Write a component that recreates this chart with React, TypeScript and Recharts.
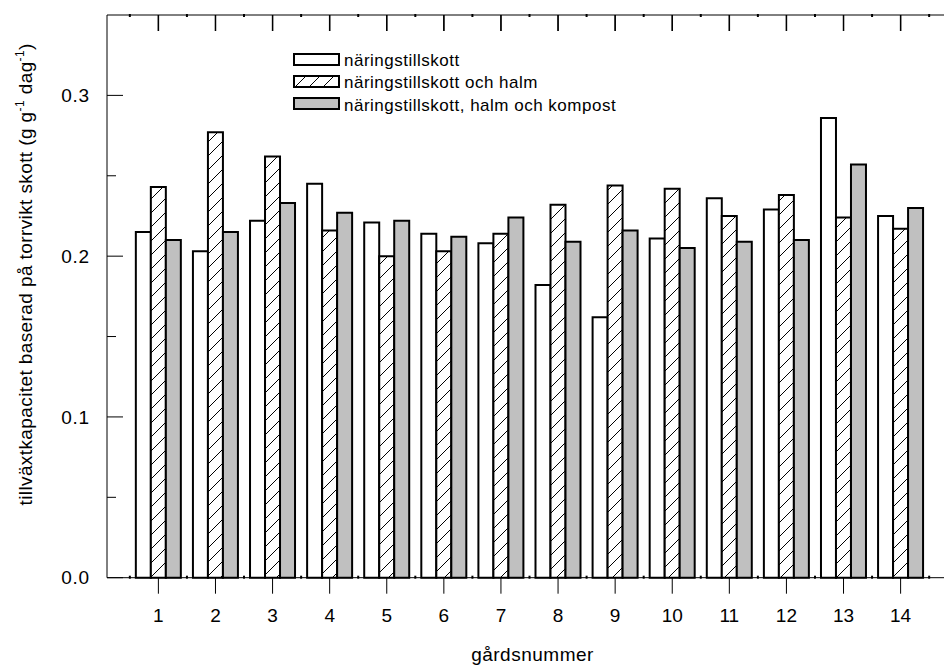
import { Bar, BarChart, Legend, ReferenceLine, XAxis, YAxis } from "recharts";

// gårdsnummer
const farms = ["1", "2", "3", "4", "5", "6", "7", "8", "9", "10", "11", "12", "13", "14"];

// tillväxtkapacitet (g g-1 dag-1)
const nutrients = [0.215, 0.203, 0.222, 0.245, 0.221, 0.214, 0.208, 0.182, 0.162, 0.211, 0.236, 0.229, 0.286, 0.225];
const nutrientsStraw = [0.243, 0.277, 0.262, 0.216, 0.2, 0.203, 0.214, 0.232, 0.244, 0.242, 0.225, 0.238, 0.224, 0.217];
const nutrientsStrawCompost = [0.21, 0.215, 0.233, 0.227, 0.222, 0.212, 0.224, 0.209, 0.216, 0.205, 0.209, 0.21, 0.257, 0.23];

const seriesNames = [
  "näringstillskott",
  "näringstillskott och halm",
  "näringstillskott, halm och kompost",
];

const yTicks = [0, 0.05, 0.1, 0.15, 0.2, 0.25, 0.3];
const yMajorTicks = [0, 0.1, 0.2, 0.3];
const Y_MAX = 0.35;

const chartData = farms.map((farm, i) => ({
  farm,
  a: nutrients[i],
  b: nutrientsStraw[i],
  c: nutrientsStrawCompost[i],
}));

const FONT = "'Liberation Sans', Arial, sans-serif";
const CHART_W = 980;
const CHART_H = 665;
const MARGIN = { top: 14, left: 107, right: 28, bottom: 87.3 };
const PLOT_TOP = MARGIN.top + 1;
const PLOT_W = CHART_W - MARGIN.left - MARGIN.right;
const PLOT_H = CHART_H - PLOT_TOP - MARGIN.bottom;
// x range runs from 0.1 to 14.9 farm units
const BAND = PLOT_W / 14.8;
const PAD = 0.4 * BAND;
// 16px inward tick on the top frame, in value units
const TOP_TICK = (Y_MAX * 16) / PLOT_H;

const LeftTick = (props: any) => {
  const { x, y, payload } = props;
  const major = Math.round(payload.value * 100) % 10 === 0;
  return (
    <g>
      <line x1={x} x2={x + (major ? 16 : 9)} y1={y} y2={y} stroke="#000" />
      {major && (
        <text
          x={x - 17}
          y={y}
          dy="0.35em"
          textAnchor="end"
          fontSize={19}
          fontFamily={FONT}
          letterSpacing={0.8}
          fill="#000"
        >
          {payload.value.toFixed(1)}
        </text>
      )}
    </g>
  );
};

const RightTick = (props: any) => {
  const { x, y } = props;
  return <line x1={x} x2={x - 16} y1={y} y2={y} stroke="#000" />;
};

// short half-step ticks between the farms, pointing into the plot
const minorMarks = (x: number, y: number, index: number, dir: number) => {
  const xs = [x - BAND / 2];
  if (index === farms.length - 1) xs.push(x + BAND / 2);
  return xs.map((mx) => (
    <line key={mx} x1={mx} x2={mx} y1={y - dir} y2={y + 2 * dir} stroke="#000" strokeWidth={2} />
  ));
};

// bottom farm tick (outward, with label) and the matching inward tick on the top frame
const FarmTick = (props: any) => {
  const { x, y, payload, index } = props;
  return (
    <g>
      <line x1={x} x2={x} y1={y} y2={y + 16} stroke="#000" />
      {minorMarks(x, y, index, -1)}
      <rect x={x - 0.75} y={PLOT_TOP} width={1.5} height={16} fill="#000" />
      {minorMarks(x, PLOT_TOP, index, 1)}
      <text x={x} y={y + 44} textAnchor="middle" fontSize={19} fontFamily={FONT} fill="#000">
        {payload.value}
      </text>
    </g>
  );
};

const YLabel = (props: any) => {
  const { viewBox } = props;
  const cx = viewBox.x - 75;
  const cy = viewBox.y + viewBox.height / 2 - 22;
  return (
    <text
      x={cx}
      y={cy}
      transform={`rotate(-90, ${cx}, ${cy})`}
      textAnchor="middle"
      fontSize={19}
      fontFamily={FONT}
      letterSpacing={0.4}
      fill="#000"
    >
      <tspan>tillväxtkapacitet baserad på torrvikt skott (g g</tspan>
      <tspan fontSize={12} dy={-8}>-1</tspan>
      <tspan dy={8}> dag</tspan>
      <tspan fontSize={12} dy={-8}>-1</tspan>
      <tspan dy={8}>)</tspan>
    </text>
  );
};

const XLabel = (props: any) => {
  const { viewBox } = props;
  return (
    <text
      x={viewBox.x + viewBox.width / 2 + 3}
      y={viewBox.y + viewBox.height + 83}
      textAnchor="middle"
      fontSize={19}
      fontFamily={FONT}
      letterSpacing={0.5}
      fill="#000"
    >
      gårdsnummer
    </text>
  );
};

const legendFills = ["#ffffff", "url(#hatch)", "#c0c0c0"];

const LegendContent = () => (
  <div style={{ fontFamily: FONT, fontSize: 17, letterSpacing: 0.5, color: "#000" }}>
    {seriesNames.map((name, i) => (
      <div key={name} style={{ display: "flex", alignItems: "center", height: 22.3 }}>
        <svg width={47} height={13} style={{ display: "block" }}>
          <rect x={1} y={1} width={45} height={11} fill={legendFills[i]} stroke="#000" strokeWidth={2} />
        </svg>
        <span style={{ marginLeft: 4, position: "relative", top: 2, whiteSpace: "nowrap" }}>{name}</span>
      </div>
    ))}
  </div>
);

const App: React.FC = () => {
  return (
    <div
      style={{
        position: "fixed",
        left: 0,
        top: 0,
        width: 944,
        height: 665,
        overflow: "hidden",
        background: "#fff",
      }}
    >
      <BarChart
        width={CHART_W}
        height={CHART_H}
        data={chartData}
        margin={MARGIN}
        barGap={0}
      >
        <defs>
          <pattern id="hatch" patternUnits="userSpaceOnUse" width={14} height={14}>
            <rect width={14} height={14} fill="#fff" />
            <path d="M0,14 L14,0 M-3.5,3.5 L3.5,-3.5 M10.5,17.5 L17.5,10.5" stroke="#000" strokeWidth={1} />
          </pattern>
        </defs>
        <Bar dataKey="a" name={seriesNames[0]} fill="#ffffff" stroke="#000" strokeWidth={2} barSize={15} isAnimationActive={false} />
        <Bar dataKey="b" name={seriesNames[1]} fill="url(#hatch)" stroke="#000" strokeWidth={2} barSize={15} isAnimationActive={false} />
        <Bar dataKey="c" name={seriesNames[2]} fill="#c0c0c0" stroke="#000" strokeWidth={2} barSize={15} isAnimationActive={false} />
        <XAxis
          dataKey="farm"
          mirror
          height={1}
          padding={{ left: PAD, right: PAD }}
          axisLine={{ stroke: "#000" }}
          tickLine={false}
          tickSize={0}
          tickMargin={0}
          interval={0}
          tick={<FarmTick />}
          label={<XLabel />}
        />
        <XAxis
          xAxisId="top"
          orientation="top"
          dataKey="farm"
          height={1}
          axisLine={{ stroke: "#000" }}
          tickLine={false}
          tick={false}
        />
        <YAxis
          mirror
          width={1}
          domain={[0, Y_MAX]}
          ticks={yTicks}
          interval={0}
          axisLine={{ stroke: "#000" }}
          tickLine={false}
          tickSize={0}
          tickMargin={0}
          tick={<LeftTick />}
          label={<YLabel />}
        />
        <YAxis
          yAxisId="right"
          orientation="right"
          mirror
          width={1}
          domain={[0, Y_MAX]}
          ticks={yMajorTicks}
          interval={0}
          axisLine={{ stroke: "#000" }}
          tickLine={false}
          tickSize={0}
          tickMargin={0}
          tick={<RightTick />}
        />
        {farms.map((farm) => (
          <ReferenceLine
            key={`top-${farm}`}
            segment={[
              { x: farm, y: Y_MAX },
              { x: farm, y: Y_MAX - TOP_TICK },
            ]}
            stroke="#000"
            strokeWidth={1}
            ifOverflow="visible"
          />
        ))}
        <Legend
          layout="horizontal"
          verticalAlign="middle"
          align="center"
          content={<LegendContent />}
          wrapperStyle={{ left: 293, top: 48, width: 400, height: 70 }}
        />
      </BarChart>
    </div>
  );
};

export default App;
